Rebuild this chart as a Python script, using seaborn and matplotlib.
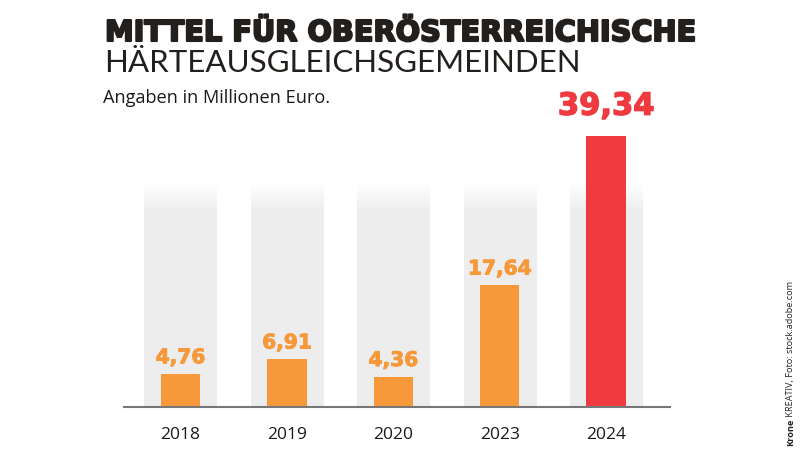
import matplotlib
matplotlib.use("Agg")
import matplotlib.pyplot as plt
import matplotlib.patheffects as pe
import seaborn as sns
import numpy as np
import pandas as pd
from matplotlib.colors import LinearSegmentedColormap

years = ["2018", "2019", "2020", "2023", "2024"]
values = [4.76, 6.91, 4.36, 17.64, 39.34]
labels = ["4,76", "6,91", "4,36", "17,64", "39,34"]
bar_colors = ["#F7993A", "#F7993A", "#F7993A", "#F7993A", "#EF3B40"]

title = "MITTEL FÜR OBERÖSTERREICHISCHE"
subtitle = "HÄRTEAUSGLEICHSGEMEINDEN"
unit_note = "Angaben in Millionen Euro."
credit_bold = "Krone"
credit_rest = " KREATIV, Foto: stock.adobe.com"

sns.set_theme(style="white")
plt.rcParams["font.family"] = ["Open Sans", "DejaVu Sans"]

W, H = 800, 452
fig = plt.figure(figsize=(W / 100, H / 100), dpi=100)
fig.patch.set_facecolor("white")
renderer = fig.canvas.get_renderer()

# axes: left 124px, right 670px, baseline 408px, top 100px
ax_left, ax_right, ax_base, ax_top = 124, 670, 408, 100
ax = fig.add_axes([ax_left / W, 1 - ax_base / H, (ax_right - ax_left) / W, (ax_base - ax_top) / H])
top_val = max(values) * (ax_base - ax_top) / (ax_base - 137)
band_top = max(values) * (ax_base - 183) / (ax_base - 137)

df = pd.DataFrame({"year": years, "value": values, "band": [band_top] * len(years)})

# background bands
sns.barplot(data=df, x="year", y="band", order=years, color="#EDEDED", width=0.68,
            ax=ax, saturation=1, linewidth=0)
band_patches = list(ax.patches)

# gradient for bands (fade toward top)
grad = np.concatenate([np.linspace(1, 0, 40), np.zeros(260)]).reshape(-1, 1)
cmap = LinearSegmentedColormap.from_list("g", ["#EDEDED", "#FFFFFF"])
for p in band_patches:
    x0 = p.get_x(); w = p.get_width(); h = p.get_height()
    im = ax.imshow(grad, extent=[x0, x0 + w, 0, h], origin="upper", cmap=cmap,
                   vmin=0, vmax=1, aspect="auto", zorder=0.5)
    im.set_clip_path(p)
    p.set_facecolor("none")

# data bars
sns.barplot(data=df, x="year", y="value", order=years, hue="year", hue_order=years,
            palette=bar_colors, width=0.37, ax=ax, saturation=1, linewidth=0, legend=False)

ax.set_xlim(-0.53, 4.6)
ax.set_ylim(0, top_val)
ax.set_xlabel(""); ax.set_ylabel("")
ax.set_yticks([])
for s in ["top", "left", "right"]:
    ax.spines[s].set_visible(False)
ax.spines["bottom"].set_color("#777777")
ax.spines["bottom"].set_linewidth(1.5)
ax.spines["bottom"].set_zorder(5)
ax.tick_params(axis="x", length=0, pad=14, labelsize=12.5, labelcolor="#1a1a1a")
ax.set_facecolor("none")

# value labels
for i, (v, lab, c) in enumerate(zip(values, labels, bar_colors)):
    big = i == len(values) - 1
    ax.annotate(lab, (i, v), xytext=(0, 11 if big else 5), textcoords="offset points",
                ha="center", va="bottom", color=c,
                fontsize=22 if big else 14.5, fontweight="bold",
                family=["DejaVu Sans"],
                path_effects=[pe.withStroke(linewidth=1.0 if big else 0.7, foreground=c)])


def fit_width(t, target_px):
    ext = t.get_window_extent(renderer)
    t.set_fontsize(t.get_fontsize() * target_px / ext.width)


# titles
t1 = fig.text(105 / W, 1 - 42 / H, title, fontsize=21, fontweight="bold",
              family=["DejaVu Sans"], color="#231f1c", va="baseline", ha="left",
              path_effects=[pe.withStroke(linewidth=1.5, foreground="#231f1c")])
fit_width(t1, 590)
t2 = fig.text(104 / W, 1 - 72 / H, subtitle, fontsize=20, fontweight="normal",
              family=["Lato", "DejaVu Sans"], color="#231f1c", va="baseline", ha="left")
fit_width(t2, 474)
t3 = fig.text(103 / W, 1 - 103 / H, unit_note, fontsize=12, color="#1a1a1a",
              family=["Open Sans", "DejaVu Sans"], va="baseline", ha="left")
fit_width(t3, 227)

# credit
c1 = fig.text(791 / W, 1 - 446 / H, credit_bold, rotation=90, fontsize=6.6, fontweight="bold",
              color="#222222", va="bottom", ha="center", family=["Open Sans", "DejaVu Sans"])
e1 = c1.get_window_extent(renderer)
fig.text(791 / W, e1.y1 / H, credit_rest, rotation=90, fontsize=6.6,
         color="#222222", va="bottom", ha="center", family=["Open Sans", "DejaVu Sans"])

fig.savefig("out.png", dpi=100, facecolor="white")
